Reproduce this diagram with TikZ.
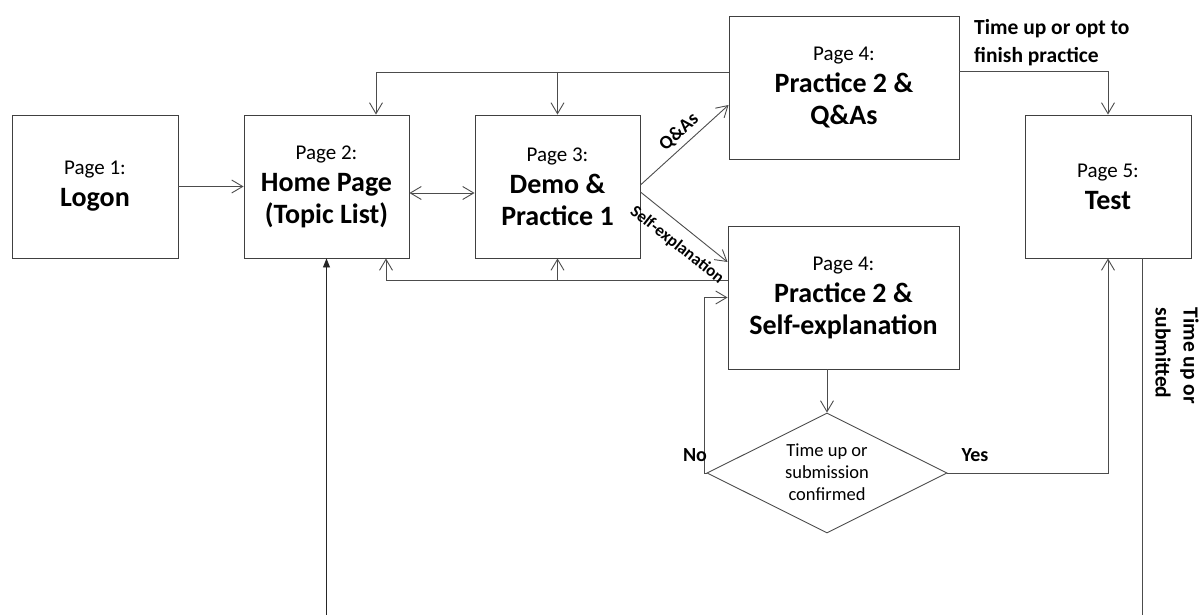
\documentclass[tikz,border=0pt]{standalone}
\usepackage{fontspec}
\setmainfont{Carlito}
\usetikzlibrary{arrows.meta,shapes.geometric,calc}
\newcommand\pglabel[1]{{\mdseries\fontsize{21}{32}\selectfont #1}}
\begin{document}
\begin{tikzpicture}[x=1pt,y=-1pt,
  line/.style={draw=black!70, line width=0.9pt},
  arr/.style={line, -{Straight Barb[length=11pt,width=13pt]}},
  arrb/.style={line, {Straight Barb[length=11pt,width=13pt]}-{Straight Barb[length=11pt,width=13pt]}},
  farr/.style={draw=black!85, line width=0.9pt, -{Triangle[length=9pt,width=7pt]}},
  box/.style={draw=black!75, line width=0.9pt, minimum height=143pt, inner sep=0pt,
    align=center, font=\bfseries\fontsize{28}{32}\selectfont},
  lbl/.style={font=\bfseries\fontsize{21.5}{28}\selectfont, inner sep=0pt},
  yn/.style={font=\bfseries\fontsize{20}{24}\selectfont, inner sep=0pt},
  dlbl/.style={font=\bfseries\fontsize{19}{21}\selectfont, inner sep=0pt}]
\useasboundingbox (0,0) rectangle (1203,615);

% boxes
\node[box, minimum width=166pt] (b1) at (95,186.5) {\pglabel{Page 1:}\\Logon};
\node[box, minimum width=165pt] (b2) at (326.5,186.5) {\pglabel{Page 2:}\\Home Page\\(Topic List)};
\node[box, minimum width=165pt] (b3) at (557.5,186.5) {\pglabel{Page 3:}\\Demo \&\\Practice 1};
\node[box, minimum width=230pt] (b4a) at (844,87.5) {\pglabel{Page 4:}\\Practice 2 \&\\Q\&As};
\node[box, minimum width=231pt] (b4b) at (843.5,297.5) {\pglabel{Page 4:}\\Practice 2 \&\\Self-explanation};
\node[box, minimum width=166pt] (b5) at (1108,186.5) {\pglabel{Page 5:}\\Test};

% decision
\node[draw=black!70, line width=0.9pt, diamond, minimum width=240pt, minimum height=120pt, inner sep=0pt] (dia) at (827,473) {};
\node[align=center, inner sep=0pt, font=\fontsize{18.5}{22}\selectfont] (diat) at (827,472) {Time up or\\submission\\confirmed};

% junction coordinates
\coordinate (j1) at (376,72);
\coordinate (j2) at (557.5,72);
\coordinate (j3) at (386,280);
\coordinate (j4) at (557.5,280);
\coordinate (j5) at (704,473);
\coordinate (j6) at (1108,473);
\coordinate (j7) at (1108,71);
\coordinate (e1) at (326.5,615);
\coordinate (e2) at (1142,615);

% connectors
\draw[arr] (b1) -- (b2);
\draw[arrb] ($(b2.east)+(0,6.5)$) -- ($(b3.west)+(0,6.5)$);
\draw[arr] (b4a.west |- j1) -- (j1) -- (j1 |- b2.north);
\draw[arr] (j2) -- (j2 |- b3.north);
\draw[arr] (b4b.west |- j3) -- (j3) -- (j3 |- b2.south);
\draw[arr] (j4) -- (j4 |- b3.south);
\draw[arr] ($(b3.east)+(0,-1.5)$) -- ($(b4a.west)+(0,17.5)$);
\draw[arr] ($(b3.east)+(0,5.5)$) -- ($(b4b.west)+(0,-35.5)$);
\draw[arr] (dia.north |- b4b.south) -- (dia.north);
\draw[arr] (dia.west) -- (j5) -- (j5 |- b4b.west) -- (b4b.west);
\draw[arr] (dia.east) -- (j6) -- (j6 |- b5.south);
\draw[arr] (b4a.east |- j7) -- (j7) -- (j7 |- b5.north);
\draw[line] (e2 |- b5.south) -- (e2);
\draw[farr] (e1) -- (e1 |- b2.south);

% labels
\node[dlbl, rotate=42] (lq) at (679,132) {Q\&As};
\node[dlbl, rotate=-38.5, font=\bfseries\fontsize{17}{19}\selectfont] (ls) at (677,245) {Self-explanation};
\node[lbl, align=left, anchor=west] (lt) at (974,43) {Time up or opt to\\finish practice};
\node[lbl, align=left, rotate=-90] (lr) at (1177,356) {Time up or\\submitted};
\node[yn] (lno) at (695,455) {No};
\node[yn] (lyes) at (975,455) {Yes};
\end{tikzpicture}
\end{document}
